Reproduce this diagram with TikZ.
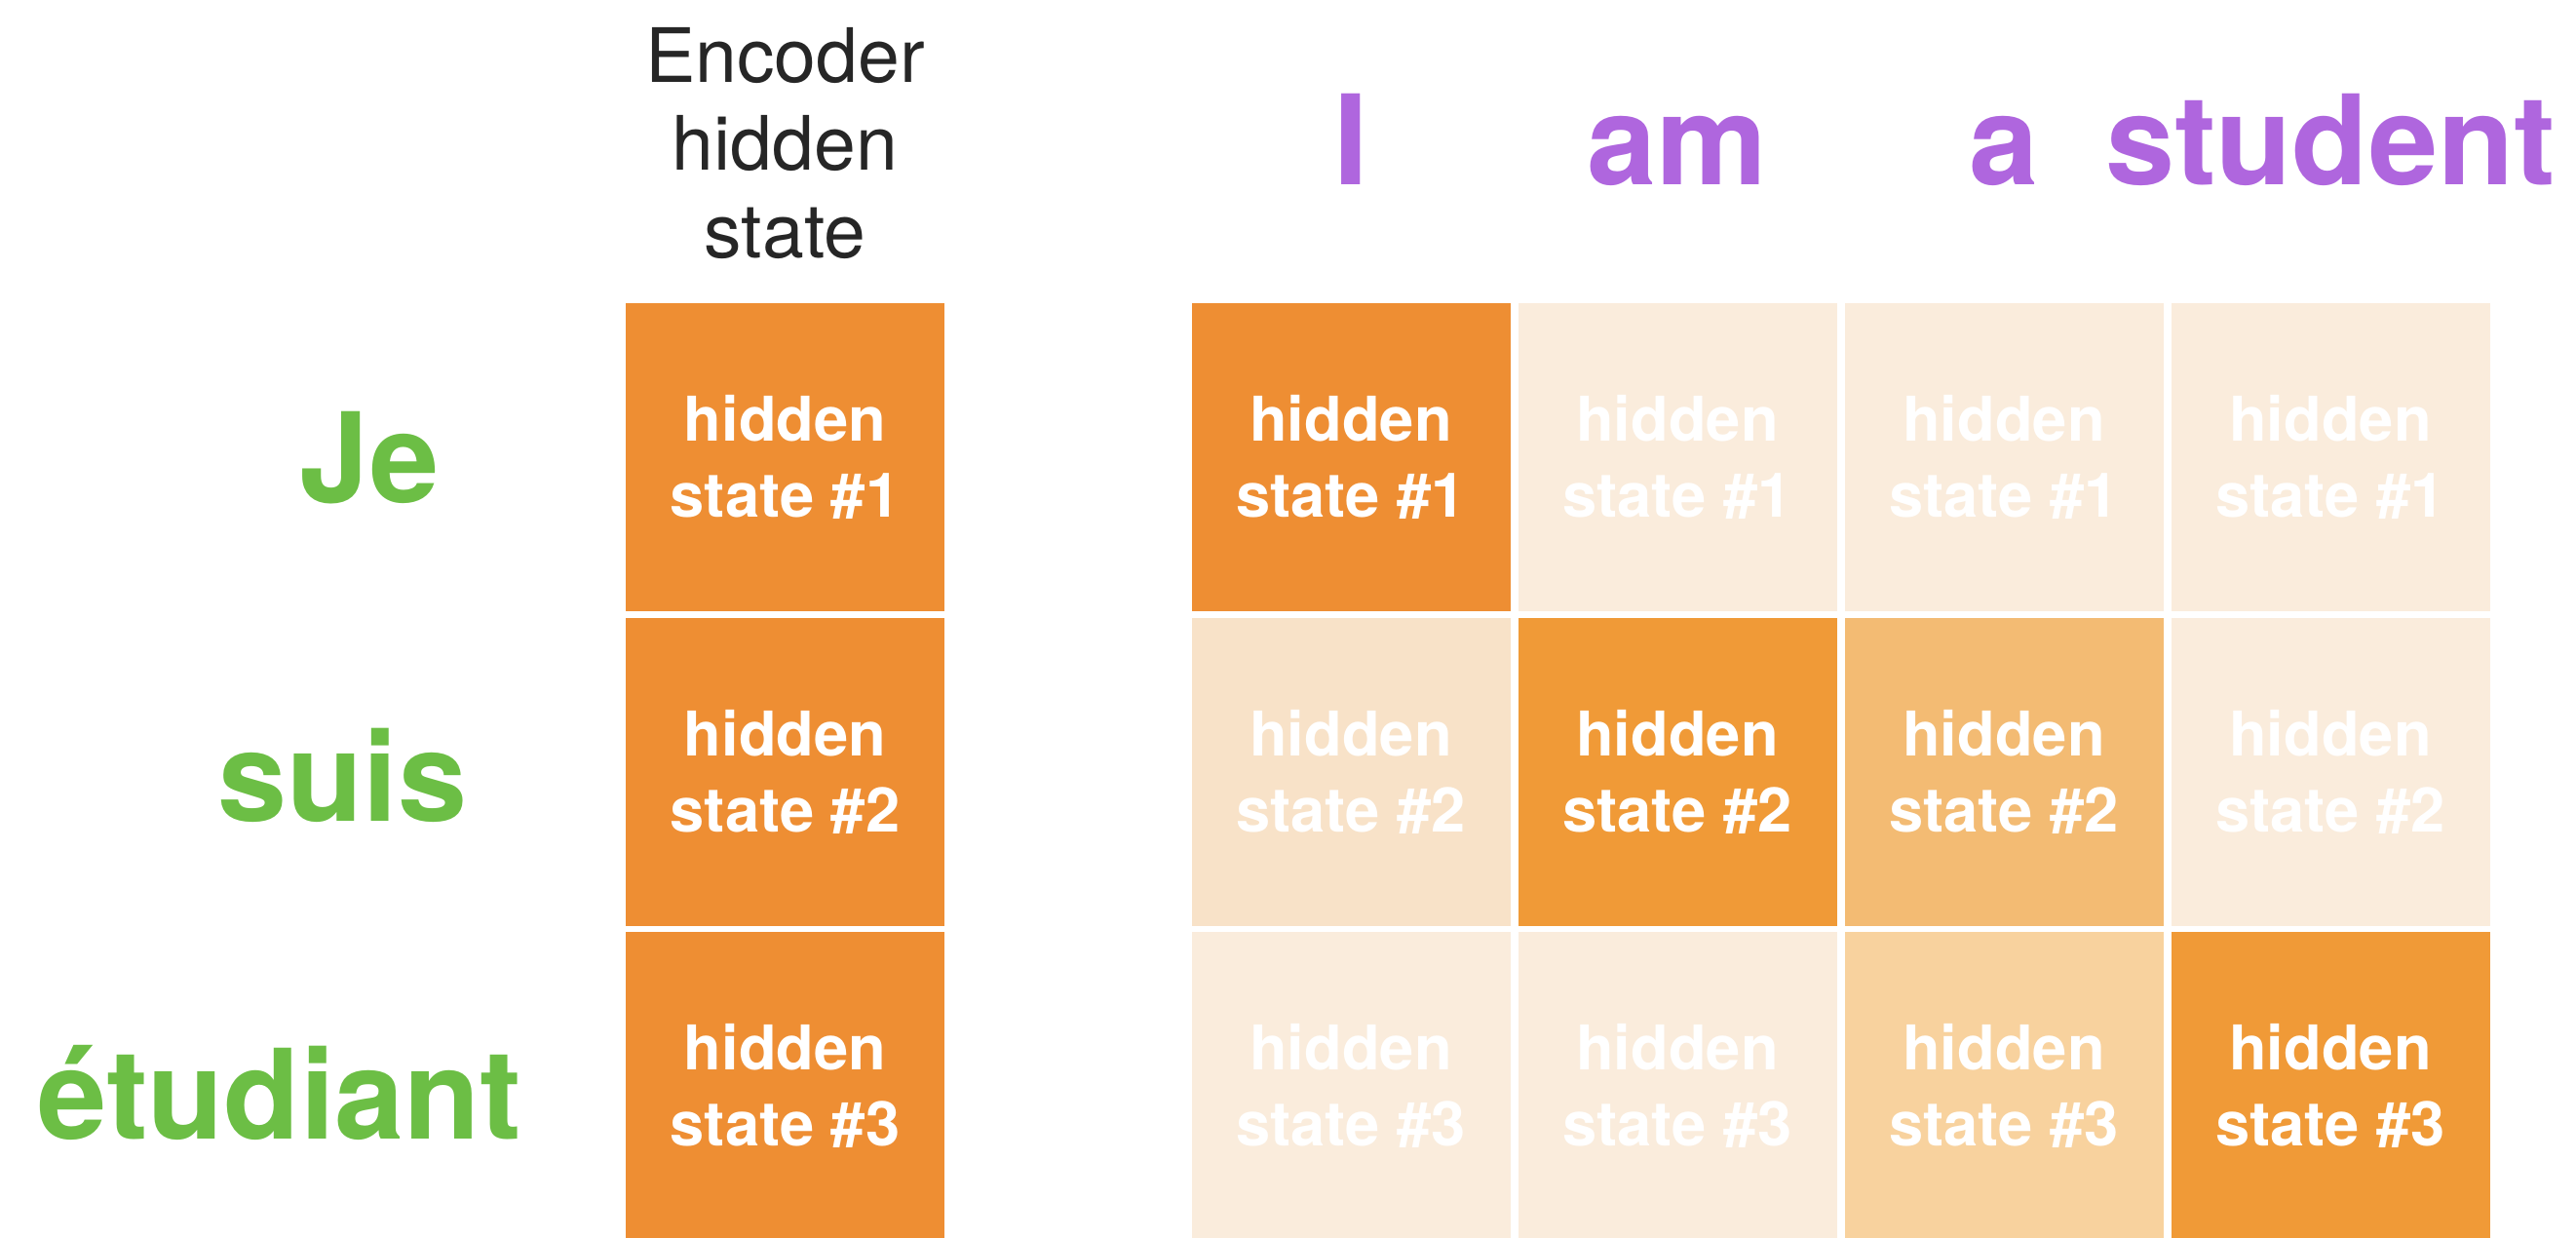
\documentclass[tikz,border=0pt]{standalone}
\usepackage{fontspec}
\setmainfont{TeX Gyre Heros}
\usetikzlibrary{positioning}

\definecolor{encorange}{RGB}{238,142,51}
\definecolor{peakorange}{RGB}{240,154,55}
\definecolor{midorange}{RGB}{243,187,115}
\definecolor{lightorange}{RGB}{248,210,158}
\definecolor{paleorange}{RGB}{248,226,200}
\definecolor{faintorange}{RGB}{250,236,220}
\definecolor{wordgreen}{RGB}{108,190,69}
\definecolor{wordpurple}{RGB}{175,102,222}

\begin{document}
\begin{tikzpicture}[
    cell/.style={rectangle, minimum width=3.27cm, minimum height=3.16cm, inner sep=0pt, text=white, align=center, font=\fontsize{18}{22.2}\selectfont\bfseries},
    srcword/.style={anchor=base, text=wordgreen, font=\fontsize{36.4}{40}\selectfont\bfseries},
    tgtword/.style={anchor=base, text=wordpurple, font=\fontsize{36.4}{40}\selectfont\bfseries},
    header/.style={align=center, inner sep=0pt, text=black!85, font=\fontsize{21.9}{25.6}\selectfont}
]
\useasboundingbox (0,0) rectangle (26.43,12.69);

% Column header
\node[header] (enchead) at (8.055, 11.22) {Encoder\\hidden\\state};

% Source words (French)
\node[srcword] (je) at (3.79, 7.54) {Je};
\node[srcword] (suis) at (3.515, 4.27) {suis};
\node[srcword] (etudiant) at (2.87, 1.01) {étudiant};

% Encoder hidden states
\node[cell, fill=encorange] (enc1) at (8.055, 8.00) {hidden\\state \#1};
\node[cell, fill=encorange] (enc2) at (8.055, 4.775) {hidden\\state \#2};
\node[cell, fill=encorange] (enc3) at (8.055, 1.55) {hidden\\state \#3};

% Target words (English)
\node[tgtword] (wi) at (13.86, 10.79) {I};
\node[tgtword] (wam) at (17.21, 10.79) {am};
\node[tgtword] (wa) at (20.56, 10.79) {a};
\node[tgtword] (wstudent) at (23.91, 10.79) {student};

% Attention grid - row 1 (hidden state #1)
\node[cell, fill=encorange] (att11) at (13.86, 8.00) {hidden\\state \#1};
\node[cell, fill=faintorange] (att12) at (17.21, 8.00) {hidden\\state \#1};
\node[cell, fill=faintorange] (att13) at (20.56, 8.00) {hidden\\state \#1};
\node[cell, fill=faintorange] (att14) at (23.91, 8.00) {hidden\\state \#1};

% Attention grid - row 2 (hidden state #2)
\node[cell, fill=paleorange] (att21) at (13.86, 4.775) {hidden\\state \#2};
\node[cell, fill=peakorange] (att22) at (17.21, 4.775) {hidden\\state \#2};
\node[cell, fill=midorange] (att23) at (20.56, 4.775) {hidden\\state \#2};
\node[cell, fill=faintorange] (att24) at (23.91, 4.775) {hidden\\state \#2};

% Attention grid - row 3 (hidden state #3)
\node[cell, fill=faintorange] (att31) at (13.86, 1.55) {hidden\\state \#3};
\node[cell, fill=faintorange] (att32) at (17.21, 1.55) {hidden\\state \#3};
\node[cell, fill=lightorange] (att33) at (20.56, 1.55) {hidden\\state \#3};
\node[cell, fill=peakorange] (att34) at (23.91, 1.55) {hidden\\state \#3};

\end{tikzpicture}
\end{document}
